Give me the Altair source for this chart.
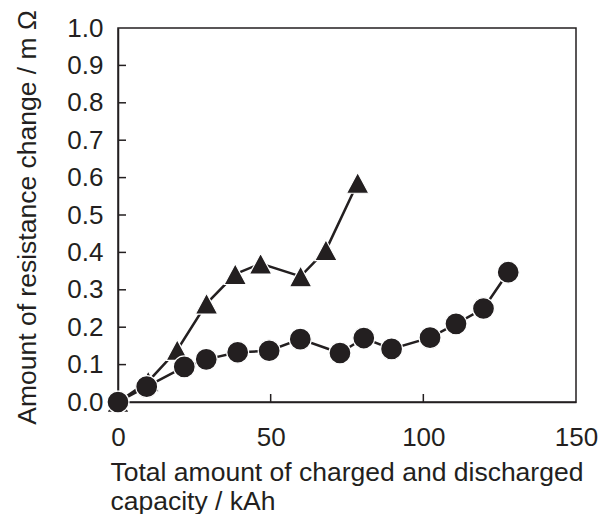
import altair as alt
import pandas as pd

# ---- data ----
circle_x = [0, 9.4, 21.7, 28.9, 39.2, 49.5, 59.7, 72.7, 80.5, 89.6, 102.2, 110.7, 119.7, 127.8]
circle_y = [0.0, 0.041, 0.094, 0.114, 0.133, 0.137, 0.168, 0.131, 0.171, 0.142, 0.172, 0.209, 0.250, 0.347]
tri_x = [0, 9.9, 19.4, 29.0, 38.4, 46.7, 59.8, 68.1, 78.5]
tri_y = [0.0, 0.055, 0.139, 0.263, 0.342, 0.370, 0.336, 0.406, 0.586]
x_ticks = [0, 50, 100, 150]
y_ticks = [0.0, 0.1, 0.2, 0.3, 0.4, 0.5, 0.6, 0.7, 0.8, 0.9, 1.0]
x_title = ["Total amount of charged and discharged", "capacity / kAh"]
y_title = "Amount of resistance change / m Ω"

INK = "#231f20"
FONT = "Liberation Sans, Arial, sans-serif"

circ = pd.DataFrame({"x": circle_x, "y": circle_y})
tri = pd.DataFrame({"x": tri_x, "y": tri_y})
xt = pd.DataFrame({"x": x_ticks[1:-1]})
yt = pd.DataFrame({"y": y_ticks[1:-1]})

xscale = alt.Scale(domain=[0, 150], nice=False, zero=False)
yscale = alt.Scale(domain=[0, 1], nice=False, zero=False)

xaxis = alt.Axis(
    values=x_ticks, format="d", title=x_title, grid=False,
    labelFont=FONT, labelFontSize=26, labelColor=INK, labelPadding=43,
    labelBaseline="alphabetic", labelFlush=False, labelOverlap=False,
    ticks=False, tickSize=0, domainColor=INK, domainWidth=1.5,
    titleFont=FONT, titleFontSize=26.5, titleFontWeight="normal", titleColor=INK,
    titleAlign="left", titleBaseline="alphabetic", titleX=-8, titleY=78,
    titleLineHeight=29,
)
yaxis = alt.Axis(
    values=y_ticks, format=".1f", title=y_title, grid=False,
    labelFont=FONT, labelFontSize=26, labelColor=INK, labelPadding=15,
    labelAlign="right", labelBaseline="middle", labelFlush=False, labelOverlap=False,
    ticks=False, tickSize=0, domainColor=INK, domainWidth=1.5,
    titleFont=FONT, titleFontSize=26.5, titleFontWeight="normal", titleColor=INK,
    titleAngle=270, titleAlign="center", titleBaseline="alphabetic",
    titleX=-83, titleY=189,
)

X = alt.X("x:Q", scale=xscale, axis=xaxis)
Y = alt.Y("y:Q", scale=yscale, axis=yaxis)

xtick_rules = alt.Chart(xt).mark_rule(color=INK, strokeWidth=1.5).encode(
    x=X, y=alt.value(374), y2=alt.value(366)
)
ytick_rules = alt.Chart(yt).mark_rule(color=INK, strokeWidth=1.5).encode(
    y=Y, x=alt.value(0), x2=alt.value(8)
)

tri_line = alt.Chart(tri).mark_line(color=INK, strokeWidth=2.5).encode(x=X, y=Y)
tri_pts = alt.Chart(tri).mark_point(
    shape="M-1,0.93L1,0.93L0,-0.93Z", filled=True, size=500, fill=INK,
    stroke="white", strokeWidth=1.2, opacity=1, fillOpacity=1,
).encode(x=X, y=Y)

circ_line = alt.Chart(circ).mark_line(color=INK, strokeWidth=2.5).encode(x=X, y=Y)
circ_pts = alt.Chart(circ).mark_point(
    shape="circle", filled=True, size=480, fill=INK,
    stroke="white", strokeWidth=1.2, opacity=1, fillOpacity=1,
).encode(x=X, y=Y)

chart = alt.layer(
    xtick_rules, ytick_rules, tri_line, tri_pts, circ_line, circ_pts
).properties(
    width=458, height=374,
    padding={"left": 118, "top": 28, "right": 23, "bottom": 112},
    autosize=alt.AutoSizeParams(type="none"),
    background="white",
).configure_view(stroke=INK, strokeWidth=1.5)

chart.save("out.html", embed_options={"renderer": "svg", "actions": False})
